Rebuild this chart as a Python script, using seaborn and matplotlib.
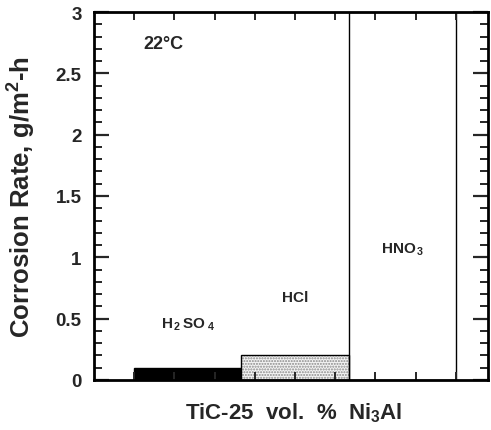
import matplotlib
matplotlib.use("Agg")
import matplotlib.pyplot as plt
import matplotlib.patches as mpatches
from matplotlib.ticker import MultipleLocator, FixedLocator, NullFormatter
import numpy as np
import pandas as pd
import seaborn as sns

# ---- data ----
acids = ["H2SO4", "HCl", "HNO3"]
acid_labels = [r"H$_{\,2}\,$SO$_{\,\,4}$", "HCl", r"HNO$_{\,3}$"]
rates = [0.10, 0.20, 3.5]          # HNO3 is off-scale (> 3)
label_heights = [0.46, 0.68, 1.07]
ytick_values = [0, 0.5, 1, 1.5, 2, 2.5, 3]
ytick_labels = ["0", "0.5", "1", "1.5", "2", "2.5", "3"]
temperature_label = "22°C"
ylabel = r"Corrosion Rate, g/m$^2$-h"
xlabel = r"TiC-25  vol.  %  Ni$_3$Al"

sns.set_style("ticks")
plt.rcParams["font.family"] = ["Liberation Sans", "DejaVu Sans"]
plt.rcParams["mathtext.fontset"] = "custom"
plt.rcParams["mathtext.rm"] = "Liberation Sans:bold"
plt.rcParams["mathtext.it"] = "Liberation Sans:bold"
plt.rcParams["mathtext.bf"] = "Liberation Sans:bold"
plt.rcParams["axes.axisbelow"] = False

fig = plt.figure(figsize=(4.91, 4.31), dpi=100)
ax = fig.add_axes([94 / 491, 50 / 431, 394 / 491, 368 / 431])
ax.set_axisbelow(False)

df = pd.DataFrame({"acid": acids, "rate": rates})
sns.barplot(data=df, x="acid", y="rate", ax=ax, width=1.0,
            color="white", edgecolor="black", linewidth=1.0, saturation=1)

patches = ax.patches
# H2SO4: solid black
patches[0].set_facecolor("black")
# HCl: stippled
p = patches[1]
p.set_facecolor("#f4f4f4")
p.set_hatch("......")
p.set_edgecolor("#8a8a8a")
p.set_linewidth(0)
outline = mpatches.Rectangle((p.get_x(), p.get_y()), p.get_width(), p.get_height(),
                             fill=False, edgecolor="black", linewidth=1.0, zorder=3)
ax.add_patch(outline)

ax.set_ylim(0, 3)
ax.set_xlim(-0.875, 2.8)

ax.yaxis.set_minor_locator(MultipleLocator(0.1))
ax.set_yticks(ytick_values)
ax.set_yticklabels(ytick_labels)
ax.xaxis.set_major_locator(FixedLocator(list(np.arange(-0.5, 2.51, 0.375))))
ax.xaxis.set_major_formatter(NullFormatter())

ax.tick_params(axis="y", which="major", direction="in", length=11, width=1.6,
               left=True, right=True, labelsize=13.5, pad=9)
ax.tick_params(axis="y", which="minor", direction="in", length=6, width=1.4,
               left=True, right=True)
ax.tick_params(axis="x", which="major", direction="in", length=6, width=1.4,
               top=True, bottom=True)
for lbl in ax.get_yticklabels():
    lbl.set_fontweight("bold")

for s in ax.spines.values():
    s.set_visible(True)
    s.set_linewidth(2.0)
    s.set_color("black")
    s.set_zorder(5)

ax.set_ylabel(ylabel, fontsize=18.5, fontweight="bold")
ax.yaxis.set_label_coords(-0.142, 0.5)
ax.set_xlabel(xlabel, fontsize=16, fontweight="bold")
ax.xaxis.set_label_coords(0.508, -0.055)

for i, (lab, h) in enumerate(zip(acid_labels, label_heights)):
    ax.text(i, h, lab, ha="center", va="center", fontsize=11, fontweight="bold")

ax.text(0.125, 0.915, temperature_label, transform=ax.transAxes, fontsize=13,
        fontweight="bold", ha="left", va="center")

fig.savefig("out.png", dpi=100)
